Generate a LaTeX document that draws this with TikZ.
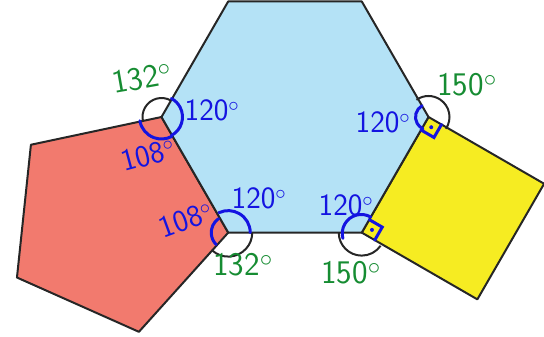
\documentclass[tikz,border=0pt]{standalone}
\usetikzlibrary{calc}
\definecolor{hexblue}{RGB}{180,226,246}
\definecolor{pentred}{RGB}{242,122,110}
\definecolor{sqyellow}{RGB}{246,236,34}
\definecolor{inkblue}{RGB}{20,20,225}
\definecolor{inkgreen}{RGB}{22,140,50}
\tikzset{
  face/.style  = {draw=black!85, line width=2pt, line join=round},
  inner/.style = {draw=inkblue, line width=3pt, line cap=round},
  outer/.style = {draw=black!85, line width=2pt},
  dot/.style   = {fill=inkblue},
  blab/.style  = {text=inkblue, inner sep=0pt,
                  font=\sffamily\fontsize{31}{34}\selectfont},
  glab/.style  = {text=inkgreen, inner sep=0pt,
                  font=\sffamily\fontsize{33}{36}\selectfont},
}

\begin{document}
\begin{tikzpicture}[x=1pt, y=1pt]
  \useasboundingbox (0,0) rectangle (544,337);

  % ---- hexagon corners ----
  \coordinate (hc) at (295,220);
  \foreach \n/\a in {A/180, B/120, C/60, D/0, E/-60, F/-120}
    \coordinate (\n) at ($(hc)+(\a:133.5pt)$);

  % ---- pentagon on A-F, square on D-E ----
  \coordinate (P3) at ($(F)!1!108:(A)$);
  \coordinate (P4) at ($(P3)!1!108:(F)$);
  \coordinate (P5) at ($(P4)!1!108:(P3)$);
  \coordinate (S3) at ($(E)!1!-90:(D)$);
  \coordinate (S4) at ($(D)!1!90:(E)$);

  \draw[face, fill=pentred]  (A) -- (F) -- (P3) -- (P4) -- (P5) -- cycle;
  \draw[face, fill=sqyellow] (E) -- (S3) -- (S4) -- (D) -- cycle;
  \draw[face, fill=hexblue]  (A) -- (B) -- (C) -- (D) -- (E) -- (F) -- cycle;

  % ---- angles at A ----
  \draw[outer] ($(A)+(60:19pt)$) arc[start angle=60, end angle=192, radius=19pt];
  \draw[inner] ($(A)+(-62:21pt)$) arc[start angle=-62, end angle=62, radius=21pt];
  \draw[inner] ($(A)+(190:22pt)$) arc[start angle=190, end angle=298, radius=22pt];

  % ---- angles at F ----
  \draw[outer] ($(F)+(228:24pt)$) arc[start angle=228, end angle=360, radius=24pt];
  \draw[inner] ($(F)+(0:22pt)$) arc[start angle=0, end angle=115, radius=22pt];
  \draw[inner] ($(F)+(125:17pt)$) arc[start angle=125, end angle=225, radius=17pt];

  % ---- angles at E ----
  \draw[outer] ($(E)+(180:23pt)$) arc[start angle=180, end angle=325, radius=23pt];
  \draw[inner] ($(E)+(60:18pt)$) arc[start angle=60, end angle=195, radius=19pt];
  \draw[inner] ($(E)+(60:15pt)$) -- ++(-30:15pt) -- ++(240:15pt);
  \fill[dot] ($(E)+(15:10.6pt)$) circle (2pt);

  % ---- angles at D ----
  \draw[outer] ($(D)+(-34:21pt)$) arc[start angle=-34, end angle=125, radius=21pt];
  \draw[inner] ($(D)+(120:13pt)$) arc[start angle=120, end angle=245, radius=13pt];
  \draw[inner] ($(D)+(240:15pt)$) -- ++(330:15pt) -- ++(60:15pt);
  \fill[dot] ($(D)+(285:10.6pt)$) circle (2pt);

  % ---- labels ----
  \node[glab, rotate=10] (lA1) at (142,259) {132$^{\circ}$};
  \node[blab]            (lA2) at (212,227) {120$^{\circ}$};
  \node[blab, rotate=15] (lA3) at (148,182) {108$^{\circ}$};
  \node[blab, rotate=20] (lF1) at (186,117) {108$^{\circ}$};
  \node[blab]            (lF2) at (259,139) {120$^{\circ}$};
  \node[glab]            (lF3) at (243,72)  {132$^{\circ}$};
  \node[blab]            (lE1) at (346,132) {120$^{\circ}$};
  \node[glab]            (lE2) at (351,64)  {150$^{\circ}$};
  \node[blab]            (lD1) at (383,215) {120$^{\circ}$};
  \node[glab]            (lD2) at (467,252) {150$^{\circ}$};
\end{tikzpicture}
\end{document}
